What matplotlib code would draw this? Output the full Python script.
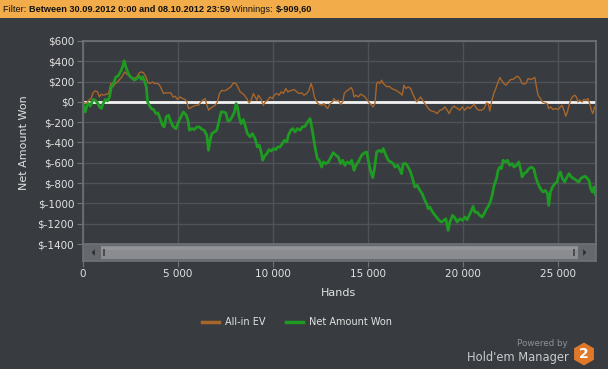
import matplotlib
matplotlib.use("Agg")
import matplotlib.pyplot as plt
from matplotlib.patches import Rectangle, RegularPolygon, Polygon
from matplotlib.ticker import FuncFormatter

# All-in EV (orange) - hands, dollars
ev_hands = [0, 200, 320, 446, 551, 672, 792, 881, 986, 1107, 1249, 1369, 1495, 1600,
            1721, 1842, 1947, 2073, 2209, 2335, 2471, 2597, 2718, 2860, 2980, 3085,
            3206, 3332, 3437, 3557, 3678, 3783, 3909, 4030, 4135, 4255, 4381, 4518,
            4644, 4749, 4869, 4990, 5132, 5252, 5394, 5483, 5567, 5693, 5829, 5971,
            6092, 6218, 6323, 6443, 6533, 6627, 6706, 6826, 6968, 7089, 7194, 7320,
            7440, 7545, 7666, 7792, 7928, 8054, 8159, 8280, 8400, 8505, 8631, 8752,
            8857, 8978, 9067, 9156, 9240, 9366, 9502, 9591, 9733, 9854, 9975, 10080,
            10205, 10326, 10431, 10552, 10678, 10783, 10903, 11024, 11129, 11255,
            11375, 11517, 11638, 11779, 11900, 12005, 12095, 12178, 12304, 12425,
            12567, 12687, 12792, 12881, 13002, 13133, 13205, 13317, 13438, 13564,
            13669, 13753, 13879, 13999, 14104, 14193, 14261, 14366, 14487, 14613,
            14718, 14838, 14959, 15064, 15190, 15274, 15363, 15453, 15537, 15626,
            15715, 15799, 15888, 16009, 16113, 16239, 16360, 16465, 16586, 16712,
            16796, 16885, 16990, 17110, 17236, 17341, 17462, 17551, 17635, 17761,
            17866, 17987, 18107, 18249, 18390, 18511, 18632, 18774, 18915, 19036,
            19157, 19262, 19388, 19509, 19702, 19823, 19944, 20086, 20227, 20348,
            20469, 20574, 20700, 20820, 20962, 21099, 21225, 21309, 21398, 21487,
            21607, 21712, 21833, 21922, 22011, 22132, 22237, 22358, 22483, 22620,
            22746, 22851, 22971, 23092, 23197, 23323, 23407, 23549, 23669, 23758,
            23848, 23931, 24057, 24162, 24283, 24404, 24493, 24598, 24718, 24844,
            24981, 25107, 25191, 25296, 25385, 25474, 25558, 25647, 25736, 25857,
            25947, 26030, 26119, 26241, 26346, 26471, 26555, 26645, 26734, 26813,
            26902]
ev_won = [0, -16, 17, 33, 89, 109, 99, 49, 76, 66, 76, 83, 182, 148,
          182, 197, 221, 247, 296, 273, 254, 241, 231, 247, 286, 296,
          286, 247, 188, 182, 197, 182, 182, 172, 132, 83, 89, 89,
          89, 49, 56, 24, 49, 33, 24, 0, -65, -56, -42, -33,
          -33, 0, 17, 33, -33, -82, -65, -49, -33, 0, 83, 115,
          109, 115, 132, 148, 188, 182, 148, 99, 83, 66, 33, -10,
          17, 83, 49, 17, 66, 33, -33, 0, 17, 49, 33, 66,
          83, 66, 99, 83, 132, 99, 109, 115, 122, 99,
          83, 89, 66, 83, 115, 182, 132, 49, 0, -23,
          -33, -16, -49, -65, -16, 0, 33, 10, 17, -23,
          0, 83, 109, 122, 142, 115, 49, 66, 49, 76,
          66, 49, 17, -10, -33, -49, -16, 182, 197, 182,
          214, 182, 165, 148, 155, 132, 122, 115, 99, 83,
          66, 165, 132, 148, 132, 83, 33, 0, 17, 49,
          17, -16, -49, -82, -92, -99, -115, -82, -75, -49,
          -82, -115, -65, -42, -65, -82, -49, -82, -49, -65,
          -42, -23, -65, -82, -82, -65, -10, -16, -89, 0,
          83, 132, 197, 241, 214, 182, 165, 188, 221, 221,
          241, 254, 231, 182, 175, 188, 231, 221, 231, 241,
          148, 66, 33, 0, -10, -16, -65, -49, -75, -65,
          -75, -49, -33, -82, -141, -99, -33, 17, 49, 66,
          49, 0, 17, 0, 24, 17, 33, -16, -82, -115,
          -49]

# Net Amount Won (green) - hands, dollars
net_hands = [0, 150, 240, 320, 410, 550, 670, 790, 900, 990, 1080, 1200, 1320, 1420,
             1510, 1630, 1760, 1860, 1950, 2040, 2130, 2190, 2280, 2390, 2510, 2630,
             2730, 2860, 2980, 3090, 3170, 3260, 3350, 3420, 3510, 3610, 3730, 3860,
             3960, 4080, 4200, 4290, 4400, 4520, 4640, 4780, 4910, 5040, 5170, 5300,
             5450, 5540, 5620, 5750, 5870, 6010, 6140, 6270, 6390, 6530, 6617, 6706,
             6795, 6931, 7057, 7178, 7283, 7404, 7530, 7634, 7755, 7876, 7981, 8070,
             8138, 8227, 8332, 8453, 8542, 8663, 8804, 8925, 9067, 9187, 9292, 9382,
             9471, 9555, 9681, 9802, 9906, 10027, 10153, 10258, 10379, 10499, 10604,
             10730, 10814, 10940, 11045, 11166, 11286, 11428, 11549, 11690, 11832,
             11953, 12042, 12126, 12215, 12336, 12441, 12567, 12651, 12777, 12913,
             13055, 13175, 13317, 13438, 13564, 13669, 13789, 13910, 14052, 14141,
             14261, 14366, 14487, 14665, 14802, 14928, 15012, 15101, 15243, 15327,
             15453, 15589, 15715, 15799, 15941, 16061, 16203, 16324, 16413, 16554,
             16675, 16764, 16848, 16990, 17110, 17236, 17341, 17462, 17583, 17724,
             17845, 17950, 18076, 18160, 18249, 18338, 18459, 18601, 18737, 18863,
             18984, 19089, 19157, 19210, 19299, 19440, 19561, 19682, 19823, 19965,
             20086, 20206, 20311, 20437, 20521, 20610, 20731, 20873, 20994, 21099,
             21225, 21345, 21450, 21539, 21623, 21749, 21833, 21922, 22011, 22095,
             22221, 22326, 22447, 22567, 22672, 22798, 22919, 23008, 23092, 23197,
             23323, 23444, 23585, 23706, 23811, 23931, 24057, 24194, 24320, 24425,
             24493, 24582, 24687, 24808, 24929, 25034, 25107, 25212, 25333, 25453,
             25558, 25684, 25805, 25947, 26067, 26172, 26293, 26419, 26524, 26608,
             26697, 26786, 26870, 26943]
net_won = [0, -99, -33, -16, -42, 24, 17, -10, -49, -65, -16, 24, 10, 49,
           148, 182, 247, 254, 280, 313, 362, 405, 345, 286, 247, 231,
           214, 231, 254, 221, 247, 207, 148, 0, -33, -65, -75, -115,
           -108, -164, -230, -247, -148, -131, -197, -247, -263, -197, -148, -99,
           -131, -181, -279, -263, -273, -247, -247, -270, -279, -329, -477, -378,
           -312, -296, -279, -181, -99, -99, -108, -188, -181, -141, -99, -16,
           -49, -148, -214, -174, -230, -312, -345, -312, -362, -444, -427, -493,
           -575, -536, -510, -470, -484, -460, -470, -444, -444, -411, -378,
           -395, -329, -279, -263, -296, -263, -279, -247, -240, -197,
           -164, -247, -345, -444, -559, -575, -642, -592, -608, -592,
           -543, -500, -526, -543, -608, -575, -625, -592, -608, -575,
           -674, -625, -592, -526, -503, -493, -575, -658, -746, -674,
           -493, -477, -493, -460, -526, -575, -592, -608, -642, -625,
           -667, -707, -608, -608, -642, -691, -756, -839, -822, -872,
           -904, -954, -1003, -1052, -1036, -1069, -1102, -1135, -1168, -1184,
           -1168, -1151, -1217, -1266, -1184, -1118, -1141, -1184, -1151, -1168,
           -1135, -1161, -1118, -1069, -1029, -1086, -1086, -1118, -1135, -1102,
           -1052, -1020, -970, -904, -822, -756, -674, -642, -658, -575,
           -592, -575, -625, -608, -642, -625, -592, -658, -740, -707,
           -691, -658, -642, -658, -740, -806, -855, -888, -872, -904,
           -1020, -888, -839, -806, -790, -707, -691, -756, -790, -740,
           -707, -740, -756, -773, -790, -756, -740, -733, -756, -773,
           -855, -888, -839, -910]

x_ticks = [0, 5000, 10000, 15000, 20000, 25000]
y_ticks = [600, 400, 200, 0, -200, -400, -600, -800, -1000, -1200, -1400]

W, H = 608, 369
bg = "#383b3f"
grid_c = "#4f5358"
spine_c = "#6f7377"
text_c = "#e2e2e2"
green = "#1f9a22"
orange = "#a8662b"

plt.rcParams["font.family"] = ["DejaVu Sans"]

fig = plt.figure(figsize=(W / 100, H / 100), dpi=100, facecolor=bg)


def fx(px):
    return px / W


def fy(py):
    return 1 - py / H


# header band
fig.patches.append(Rectangle((0, fy(18)), 1, 18 / H, transform=fig.transFigure,
                             facecolor="#f2ad4a", edgecolor="none", zorder=0))
renderer = fig.canvas.get_renderer()
xpos = fx(3)
for txt, wt in [("Filter: ", "normal"),
                ("Between 30.09.2012 0:00 and 08.10.2012 23:59 ", "bold"),
                ("Winnings: ", "normal"), ("$-909,60", "bold")]:
    t = fig.text(xpos, fy(9), txt, fontsize=6.6, fontweight=wt, color="#111111",
                 va="center", ha="left", family="Liberation Sans")
    bb = t.get_window_extent(renderer)
    xpos += bb.width / W

# main axes
x0, x1 = 82.5, 595.5
ax = fig.add_axes([fx(x0), fy(244), fx(x1) - fx(x0), (244 - 41) / H])
ax.set_facecolor(bg)
ax.axhline(0, color="#f2f2f2", lw=2, zorder=2)
ax.plot(ev_hands, ev_won, color=orange, lw=1, zorder=3, label="All-in EV")
ax.plot(net_hands, net_won, color=green, lw=2, zorder=4, label="Net Amount Won")
ax.set_xlim(0, 26950)
ax.set_ylim(-1400, 600)
ax.set_yticks(y_ticks)
ax.set_xticks(x_ticks)
ax.yaxis.set_major_formatter(FuncFormatter(lambda v, p: f"${int(v)}"))
ax.tick_params(axis="x", length=0, labelbottom=False)
ax.tick_params(axis="y", length=4, color=spine_c, labelcolor=text_c, labelsize=7.5, pad=2)
ax.grid(True, color=grid_c, lw=1)
ax.set_axisbelow(True)
for s in ax.spines.values():
    s.set_color(spine_c)
    s.set_linewidth(1.2)
ax.spines["bottom"].set_visible(False)
ax.set_ylabel("Net Amount Won", color=text_c, fontsize=8, labelpad=6)

# scrollbar with the hands axis underneath
sb = fig.add_axes([fx(x0), fy(261), fx(x1) - fx(x0), 17 / H])
sb.set_xlim(0, 26950)
sb.set_ylim(0, 1)
sb.set_facecolor("#65686c")
sb.set_yticks([])
sb.set_xticks(x_ticks)
sb.xaxis.set_major_formatter(FuncFormatter(lambda v, p: f"{int(v):,}".replace(",", " ")))
sb.tick_params(axis="x", length=4, color=spine_c, labelcolor=text_c, labelsize=7.5, pad=2)
for s in sb.spines.values():
    s.set_color(spine_c)
    s.set_linewidth(1.2)
sb.set_xlabel("Hands", color=text_c, fontsize=8, labelpad=6)
btn = 18 / (x1 - x0)
sb.add_patch(Rectangle((btn, 0.12), 1 - 2 * btn, 0.76, transform=sb.transAxes,
                       facecolor="#8a8c8f", edgecolor="none"))
sb.add_patch(Rectangle((btn, 0.62), 1 - 2 * btn, 0.22, transform=sb.transAxes,
                       facecolor="#939598", edgecolor="none"))
sb.add_patch(Polygon([[0.018, 0.5], [0.024, 0.3], [0.024, 0.7]], closed=True,
                     transform=sb.transAxes, facecolor="#2a2c2f", edgecolor="none"))
sb.add_patch(Polygon([[0.982, 0.5], [0.976, 0.3], [0.976, 0.7]], closed=True,
                     transform=sb.transAxes, facecolor="#2a2c2f", edgecolor="none"))
for gx in [btn + 0.005, 1 - btn - 0.008]:
    sb.add_patch(Rectangle((gx, 0.3), 0.003, 0.4, transform=sb.transAxes,
                           facecolor="#4a4c50", edgecolor="none"))

# legend
leg = fig.legend(loc="center", bbox_to_anchor=(fx(297), fy(322)), ncol=2, frameon=False,
                 fontsize=7, handlelength=1.7, handletextpad=0.6, columnspacing=2.2)
for t in leg.get_texts():
    t.set_color(text_c)
for h in leg.get_lines():
    h.set_linewidth(2.5)

# branding
fig.text(fx(568), fy(344), "Powered by", color="#8e9195", fontsize=6.3, ha="right", va="center")
fig.text(fx(569), fy(357), "Hold'em Manager", color="#c9cbcd", fontsize=8.3, ha="right", va="center")
lg = fig.add_axes([fx(572), fy(367), fx(24), 26 / H])
lg.set_xlim(-1.1, 1.1)
lg.set_ylim(-1.1, 1.1)
lg.set_aspect("equal")
lg.axis("off")
lg.add_patch(RegularPolygon((0, 0), 6, radius=1.05, orientation=0, facecolor="#e0782a",
                            edgecolor="none"))
lg.text(0, -0.02, "2", color="white", fontsize=10, fontweight="bold", ha="center", va="center")

fig.savefig("out.png", dpi=100, facecolor=bg)
